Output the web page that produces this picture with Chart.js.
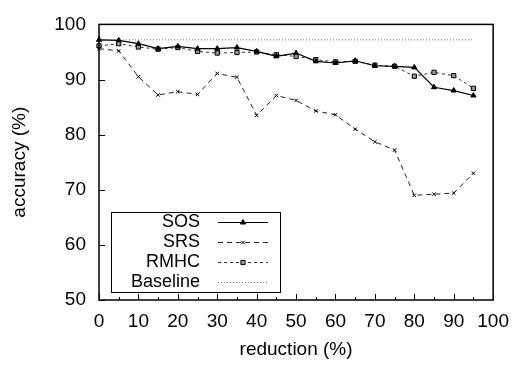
<!DOCTYPE html>
<html>
<head>
<meta charset="utf-8">
<script src="https://cdn.jsdelivr.net/npm/chart.js@4.4.1/dist/chart.umd.min.js"></script>
<style>
  html, body { margin: 0; padding: 0; background: #fff; }
  #c { display: block; }
</style>
</head>
<body>
<canvas id="c" width="519" height="367"></canvas>
<script>
//? DATA
const reduction = [0, 5, 10, 15, 20, 25, 30, 35, 40, 45, 50, 55, 60, 65, 70, 75, 80, 85, 90, 95];
const sos      = [97.2, 97.1, 96.5, 95.6, 96.0, 95.6, 95.6, 95.8, 95.1, 94.2, 94.8, 93.3, 93.0, 93.4, 92.5, 92.4, 92.2, 88.6, 88.0, 87.1];
const srs      = [95.6, 95.2, 90.5, 87.2, 87.8, 87.3, 91.1, 90.4, 83.5, 87.1, 86.2, 84.3, 83.6, 81.0, 78.7, 77.2, 69.0, 69.2, 69.4, 73.0];
const rmhc     = [96.1, 96.5, 95.9, 95.5, 95.8, 95.1, 94.8, 94.9, 95.0, 94.5, 94.2, 93.6, 93.2, 93.3, 92.6, 92.4, 90.6, 91.3, 90.7, 88.4];
const baseline = [97.2, 97.2, 97.2, 97.2, 97.2, 97.2, 97.2, 97.2, 97.2, 97.2, 97.2, 97.2, 97.2, 97.2, 97.2, 97.2, 97.2, 97.2, 97.2, 97.2];
const seriesNames = ['SOS', 'SRS', 'RMHC', 'Baseline'];

const xTicks = [0, 10, 20, 30, 40, 50, 60, 70, 80, 90, 100];
const yTicks = [50, 60, 70, 80, 90, 100];

const FONT = "'Liberation Sans', Arial, Helvetica, sans-serif";

const toPoints = (ys) => reduction.map((x, i) => ({ x: x, y: ys[i] }));

const seriesStyles = [
    { borderColor: '#000', borderWidth: 1.2, borderDash: [], pointStyle: 'triangle', pointRadius: 3, pointBackgroundColor: '#000', pointBorderColor: '#000' },
    { borderColor: '#222', borderWidth: 1, borderDash: [5, 4], pointStyle: 'crossRot', pointRadius: 2.5, pointBackgroundColor: '#000', pointBorderColor: '#000' },
    { borderColor: '#333', borderWidth: 1, borderDash: [3, 3], pointStyle: 'rect', pointRadius: 3, pointBackgroundColor: '#999', pointBorderColor: '#000' },
    { borderColor: '#777', borderWidth: 1, borderDash: [1, 2], pointStyle: false, pointRadius: 0, pointBackgroundColor: '#777', pointBorderColor: '#777' },
];

const seriesData = [sos, srs, rmhc, baseline];

//? frame + inward ticks (gnuplot look)
const framePlugin = {
    id: 'frame',
    afterDraw(chart) {
        const { ctx, chartArea: a, scales } = chart;
        ctx.save();
        ctx.strokeStyle = '#000';
        ctx.lineWidth = 1;
        ctx.setLineDash([]);
        // x ticks: major every 10, minor every 5
        for (let v = 0; v <= 100; v += 5) {
            const px = Math.round(scales.x.getPixelForValue(v)) + 0.5;
            const len = v % 10 === 0 ? 6 : 3;
            ctx.beginPath();
            ctx.moveTo(px, a.bottom);
            ctx.lineTo(px, a.bottom - len);
            ctx.stroke();
        }
        yTicks.forEach(v => {
            const py = Math.round(scales.y.getPixelForValue(v)) + 0.5;
            ctx.beginPath();
            ctx.moveTo(a.left, py);
            ctx.lineTo(a.left + 6, py);
            ctx.stroke();
        });
        ctx.lineWidth = 1.5;
        ctx.strokeRect(a.left, a.top, a.right - a.left, a.bottom - a.top);
        ctx.restore();
    }
};

//? legend box inside plot, bottom-left
const legendPlugin = {
    id: 'boxLegend',
    afterDatasetsDraw(chart) {
        const { ctx } = chart;
        const box = { left: 111, top: 212, right: 280, bottom: 292 };
        ctx.save();
        ctx.fillStyle = '#fff';
        ctx.fillRect(box.left, box.top, box.right - box.left, box.bottom - box.top);
        ctx.strokeStyle = '#000';
        ctx.lineWidth = 1;
        ctx.strokeRect(box.left + 0.5, box.top + 0.5, box.right - box.left, box.bottom - box.top);

        ctx.font = '18px ' + FONT;
        ctx.textAlign = 'right';
        ctx.textBaseline = 'middle';
        chart.data.datasets.forEach((ds, i) => {
            const y = 222 + i * 20;
            ctx.fillStyle = '#000';
            ctx.fillText(ds.label, 200, y);

            ctx.strokeStyle = ds.borderColor;
            ctx.lineWidth = ds.borderWidth;
            ctx.setLineDash(ds.borderDash);
            ctx.beginPath();
            ctx.moveTo(218, y + 0.5);
            ctx.lineTo(268, y + 0.5);
            ctx.stroke();
            ctx.setLineDash([]);

            if (ds.pointStyle) {
                ctx.fillStyle = ds.pointBackgroundColor;
                ctx.strokeStyle = ds.pointBorderColor;
                ctx.lineWidth = 1;
                Chart.helpers.drawPoint(ctx, {
                    pointStyle: ds.pointStyle,
                    radius: ds.pointRadius,
                    rotation: 0,
                    borderWidth: 1
                }, 243, y + 0.5);
            }
        });
        ctx.restore();
    }
};

new Chart(document.getElementById('c'), {
    type: 'line',
    data: {
        datasets: seriesNames.map((name, i) => ({
            label: name,
            data: toPoints(seriesData[i]),
            fill: false,
            tension: 0,
            clip: false,
            pointBorderWidth: 1,
            ...seriesStyles[i]
        }))
    },
    options: {
        responsive: false,
        animation: false,
        layout: { padding: { top: 15, right: 20, left: 0, bottom: 0 } },
        plugins: {
            legend: { display: false },
            tooltip: { enabled: false }
        },
        scales: {
            x: {
                type: 'linear',
                min: 0, max: 100,
                afterBuildTicks: (s) => { s.ticks = xTicks.map(v => ({ value: v })); },
                afterFit: (s) => { s.height = 67; },
                grid: { display: false, drawTicks: false },
                border: { display: false },
                ticks: { color: '#000', font: { family: FONT, size: 19 }, padding: 10, maxRotation: 0 },
                title: { display: true, text: 'reduction (%)', color: '#000', font: { family: FONT, size: 19 }, padding: { top: 0, bottom: 6 } }
            },
            y: {
                min: 50, max: 100,
                afterBuildTicks: (s) => { s.ticks = yTicks.map(v => ({ value: v })); },
                afterFit: (s) => { s.width = 99; },
                grid: { display: false, drawTicks: false },
                border: { display: false },
                ticks: { color: '#000', font: { family: FONT, size: 19 }, padding: 13 },
                title: { display: true, text: 'accuracy (%)', color: '#000', font: { family: FONT, size: 19 }, padding: { top: 8, bottom: 0 } }
            }
        }
    },
    plugins: [framePlugin, legendPlugin]
});
</script>
</body>
</html>
